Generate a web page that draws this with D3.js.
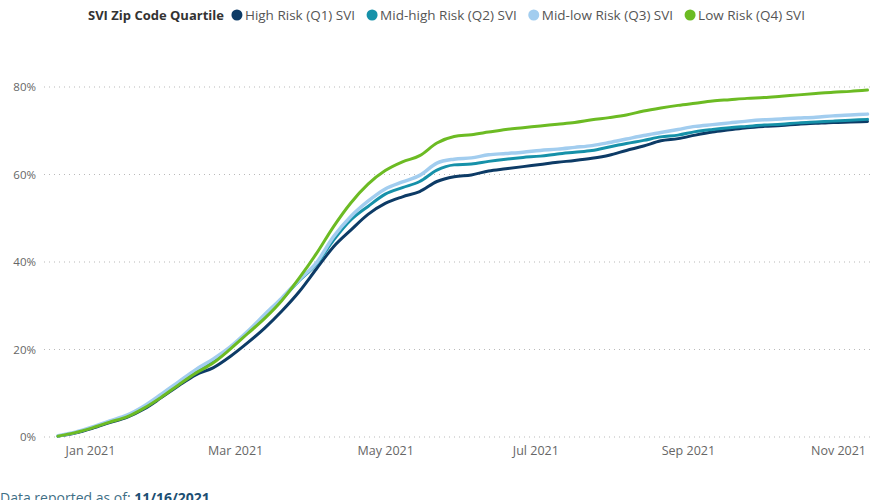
<!DOCTYPE html>
<html>
<head>
<meta charset="utf-8">
<script src="https://cdn.jsdelivr.net/npm/d3@7"></script>
<style>
  html, body { margin: 0; padding: 0; background: #fff; overflow: hidden; }
  svg { display: block; font-family: "Open Sans", "Noto Sans", sans-serif; }
</style>
</head>
<body>
<svg id="chart" width="873" height="500"></svg>
<script>
/* ── Vaccination coverage by SVI quartile — weekly, cumulative % ── */

const startDate = "2020-12-19";
const weekCount = 48;

const seriesNames = ["High Risk (Q1) SVI", "Mid-high Risk (Q2) SVI", "Mid-low Risk (Q3) SVI", "Low Risk (Q4) SVI"];
const seriesColors = ["#0d3b66", "#1691a9", "#a2cdef", "#6cbb23"];

// one value per week, percent
const q1 = [0.2, 0.9, 2.0, 3.3, 4.5, 6.4, 9.0, 11.7, 14.2, 15.8, 18.4, 21.5, 24.9, 28.8, 33.2, 38.4,
  43.5, 47.3, 50.9, 53.4, 54.9, 56.1, 58.4, 59.5, 59.9, 60.8, 61.3, 61.8, 62.3, 62.8, 63.2, 63.7,
  64.4, 65.5, 66.5, 67.7, 68.2, 69.0, 69.7, 70.2, 70.7, 71.0, 71.2, 71.5, 71.7, 71.9, 72.0, 72.1];
const q2 = [0.2, 1.0, 2.2, 3.5, 4.8, 6.8, 9.5, 12.3, 15.0, 17.4, 20.4, 23.9, 27.7, 31.5, 35.7, 39.5,
  45.0, 49.6, 52.7, 55.5, 57.0, 58.4, 61.0, 62.2, 62.4, 63.0, 63.5, 63.9, 64.2, 64.7, 65.1, 65.5,
  66.3, 67.1, 67.8, 68.6, 69.0, 69.8, 70.3, 70.7, 71.0, 71.3, 71.5, 71.8, 72.0, 72.2, 72.4, 72.6];
const q3 = [0.3, 1.1, 2.3, 3.7, 5.0, 7.1, 9.8, 12.6, 15.4, 17.8, 20.6, 24.1, 28.0, 31.8, 35.9, 39.8,
  45.8, 50.4, 53.9, 56.7, 58.3, 59.8, 62.6, 63.5, 63.8, 64.5, 64.8, 65.1, 65.5, 65.8, 66.2, 66.6,
  67.3, 68.1, 68.9, 69.6, 70.3, 71.0, 71.4, 71.8, 72.2, 72.5, 72.7, 72.9, 73.1, 73.4, 73.6, 73.8];
const q4 = [0.2, 1.0, 2.1, 3.4, 4.6, 6.6, 9.1, 11.9, 14.6, 16.9, 20.1, 23.6, 27.1, 31.2, 36.3, 41.9,
  48.1, 53.5, 57.8, 60.9, 62.9, 64.3, 67.2, 68.7, 69.1, 69.7, 70.3, 70.7, 71.1, 71.5, 71.9, 72.5,
  73.0, 73.6, 74.5, 75.2, 75.8, 76.3, 76.8, 77.1, 77.4, 77.6, 77.9, 78.2, 78.5, 78.8, 79.0, 79.3];

const yTicks = [0, 20, 40, 60, 80];

const svg = d3.select("#chart");

const parse = d3.timeParse("%Y-%m-%d");
const dates = d3.range(weekCount).map(i => d3.timeDay.offset(parse(startDate), i * 7));

const x = d3.scaleTime()
    .domain([dates[0], dates[dates.length - 1]])
    .range([58, 867.5]);
const y = d3.scaleLinear().domain([0, 80]).range([437, 87]);

// Gridlines (dotted)
svg.append("g")
    .selectAll("line")
    .data(yTicks)
    .join("line")
    .attr("x1", 44).attr("x2", 870)
    .attr("y1", d => y(d)).attr("y2", d => y(d))
    .attr("stroke", "#b9b9b9")
    .attr("stroke-width", 1)
    .attr("stroke-dasharray", "1,4");

// Y axis labels
const yAxis = svg.append("g")
    .attr("transform", "translate(36,0)")
    .call(d3.axisLeft(y).tickValues(yTicks).tickSize(0).tickPadding(0).tickFormat(d => d + "%"));
yAxis.select(".domain").remove();
yAxis.selectAll("text")
    .attr("fill", "#666")
    .attr("font-size", "11.5px")
    .attr("font-family", "'Open Sans', sans-serif");

// X axis labels
const xAxis = svg.append("g")
    .attr("transform", "translate(0,446)")
    .call(d3.axisBottom(x)
        .ticks(d3.timeMonth.every(2))
        .tickSize(0).tickPadding(0)
        .tickFormat(d3.timeFormat("%b %Y")));
xAxis.select(".domain").remove();
xAxis.selectAll("text")
    .attr("fill", "#666")
    .attr("font-size", "12.5px")
    .attr("font-family", "'Open Sans', sans-serif");

// Lines
const line = d3.line()
    .x((d, i) => x(dates[i]))
    .y(d => y(d))
    .curve(d3.curveMonotoneX);

[q1, q2, q3, q4].forEach((vals, i) => {
    svg.append("path")
        .datum(vals)
        .attr("fill", "none")
        .attr("stroke", seriesColors[i])
        .attr("stroke-width", i === 2 ? 3.5 : 3)
        .attr("stroke-linejoin", "round")
        .attr("stroke-linecap", "round")
        .attr("d", line);
});

// Legend
const legend = svg.append("g").attr("transform", "translate(88,15)");
const title = legend.append("text")
    .attr("y", 4.5)
    .attr("fill", "#333")
    .attr("font-size", "13px")
    .attr("font-weight", "700")
    .text("SVI Zip Code Quartile");
let lx = title.node().getComputedTextLength() + 13;
seriesNames.forEach((name, i) => {
    legend.append("circle")
        .attr("cx", lx).attr("cy", 0).attr("r", 5.5)
        .attr("fill", seriesColors[i]);
    const t = legend.append("text")
        .attr("x", lx + 8).attr("y", 4.5)
        .attr("fill", "#555")
        .attr("font-size", "13.5px")
        .text(name);
    lx += 8 + t.node().getComputedTextLength() + 17;
});

// Footer (partly clipped at the bottom, as in the original)
const foot = svg.append("text")
    .attr("x", 0).attr("y", 503)
    .attr("font-size", "14px");
foot.append("tspan").attr("fill", "#3f6f86").text("Data reported as of: ");
foot.append("tspan").attr("fill", "#1d4f73").attr("font-weight", "700").text("11/16/2021");
</script>
</body>
</html>
